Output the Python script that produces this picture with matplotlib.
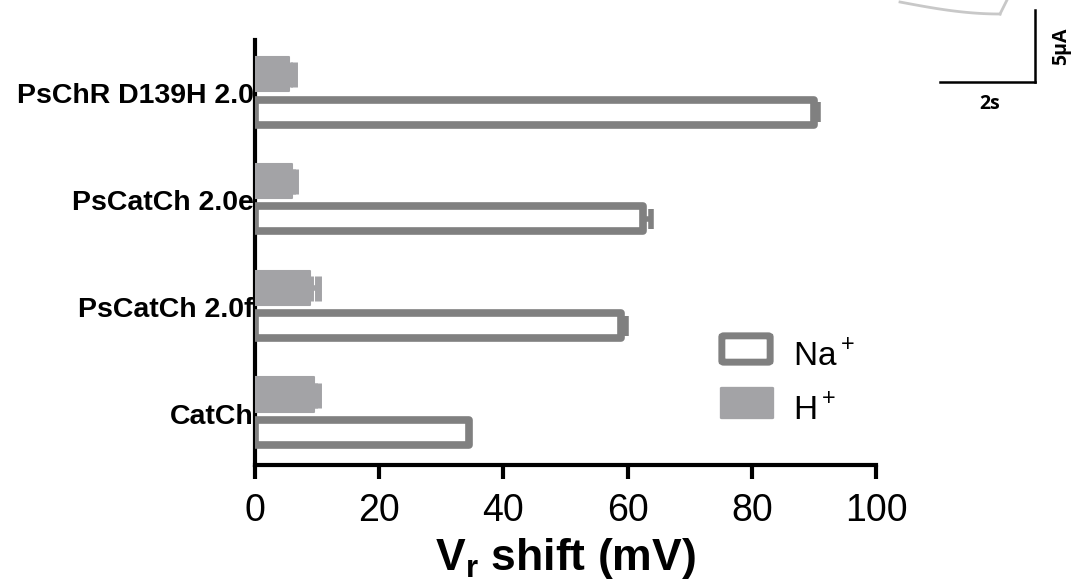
import matplotlib.pyplot as plt
import numpy as np
from matplotlib.patches import FancyBboxPatch

labels = ["CatCh", "PsCatCh 2.0f", "PsCatCh 2.0e", "PsChR D139H 2.0"]
na_shift = [34.5, 59.0, 62.5, 90.0]
na_err = [0.0, 0.8, 1.3, 0.6]
h_shift = [9.5, 8.9, 6.0, 5.5]
h_err = [0.6, 1.2, 0.4, 0.8]

plt.rcParams['font.family'] = ['Liberation Sans', 'DejaVu Sans']
plt.rcParams['mathtext.fontset'] = 'custom'
plt.rcParams['mathtext.rm'] = 'Liberation Sans'
plt.rcParams['mathtext.bf'] = 'Liberation Sans:bold'

fig = plt.figure(figsize=(10.77, 5.81), dpi=100)
ax = fig.add_axes([0.2368, 0.1997, 0.5766, 0.7313])

y = np.arange(len(labels))
gray = '#808080'
hgray = '#a3a3a6'

# Na+ bars: open with thick gray edge
ax.barh(y - 0.175, na_shift, height=0.235, facecolor='white', edgecolor=gray,
        linewidth=5.5, joinstyle='round', zorder=3)
ax.errorbar(na_shift, y - 0.175, xerr=[np.zeros(4), na_err], fmt='none',
            ecolor=gray, elinewidth=4, capsize=7, capthick=4, zorder=2)

# H+ bars: filled gray
ax.barh(y + 0.18, h_shift, height=0.32, color=hgray, edgecolor=hgray,
        linewidth=1.5, joinstyle='round', zorder=3)
ax.errorbar(h_shift, y + 0.18, xerr=[np.zeros(4), h_err], fmt='none',
            ecolor=hgray, elinewidth=4, capsize=9, capthick=5, zorder=2)

ax.set_xlim(0, 100)
ax.set_ylim(-0.48, 3.5)
ax.set_xticks([0, 20, 40, 60, 80, 100])
ax.set_yticks(y)
ax.set_yticklabels(labels, fontsize=20.5, fontweight='bold')
ax.tick_params(axis='y', length=0, pad=1)
ax.tick_params(axis='x', length=10, width=3, labelsize=27, pad=10)

for s in ['top', 'right']:
    ax.spines[s].set_visible(False)
ax.spines['left'].set_linewidth(3)
ax.spines['bottom'].set_linewidth(3)

ax.set_xlabel(r'V$_\mathbf{r}$ shift (mV)', fontsize=32, fontweight='bold', labelpad=5)

# legend drawn by hand
fig.patches.append(FancyBboxPatch((724 / 1077, 1 - 361 / 581), 44 / 1077, 24 / 581,
                                  boxstyle='round,pad=0.002', transform=fig.transFigure,
                                  facecolor='white', edgecolor=gray, linewidth=5))
fig.patches.append(FancyBboxPatch((722 / 1077, 1 - 418 / 581), 50 / 1077, 30 / 581,
                                  boxstyle='round,pad=0.002', transform=fig.transFigure,
                                  facecolor=hgray, edgecolor='none'))
fig.text(793 / 1077, 1 - 356 / 581, r'Na$^+$', fontsize=24, va='center', ha='left')
fig.text(793 / 1077, 1 - 410 / 581, r'H$^+$', fontsize=24, va='center', ha='left')

# scale bar from the neighbouring panel
fig.add_artist(plt.Line2D([940 / 1077, 1035 / 1077], [1 - 82 / 581, 1 - 82 / 581],
                          color='black', linewidth=1.8, transform=fig.transFigure))
fig.add_artist(plt.Line2D([1035 / 1077, 1035 / 1077], [1 - 82 / 581, 1 - 10 / 581],
                          color='black', linewidth=1.8, transform=fig.transFigure))
fig.text(990 / 1077, 1 - 104 / 581, '2s', fontsize=14, fontweight='bold',
         ha='center', va='center', family=['Open Sans', 'DejaVu Sans'])
fig.text(1061 / 1077, 1 - 46 / 581, '5μA', fontsize=14, fontweight='bold',
         ha='center', va='center', rotation=90, family=['Open Sans', 'DejaVu Sans'])

# cropped curve at top edge
t = np.linspace(0, 1, 30)
cx = 900 + 100 * t
cy = 2 + 12 * np.sin(np.pi * t / 2)
fig.add_artist(plt.Line2D(cx / 1077, 1 - cy / 581, color='#c8c8c8', linewidth=2,
                          transform=fig.transFigure))
fig.add_artist(plt.Line2D([1000 / 1077, 1007 / 1077], [1 - 14 / 581, 1 - 0 / 581],
                          color='#c8c8c8', linewidth=2, transform=fig.transFigure))

fig.savefig('out.png', dpi=100)
